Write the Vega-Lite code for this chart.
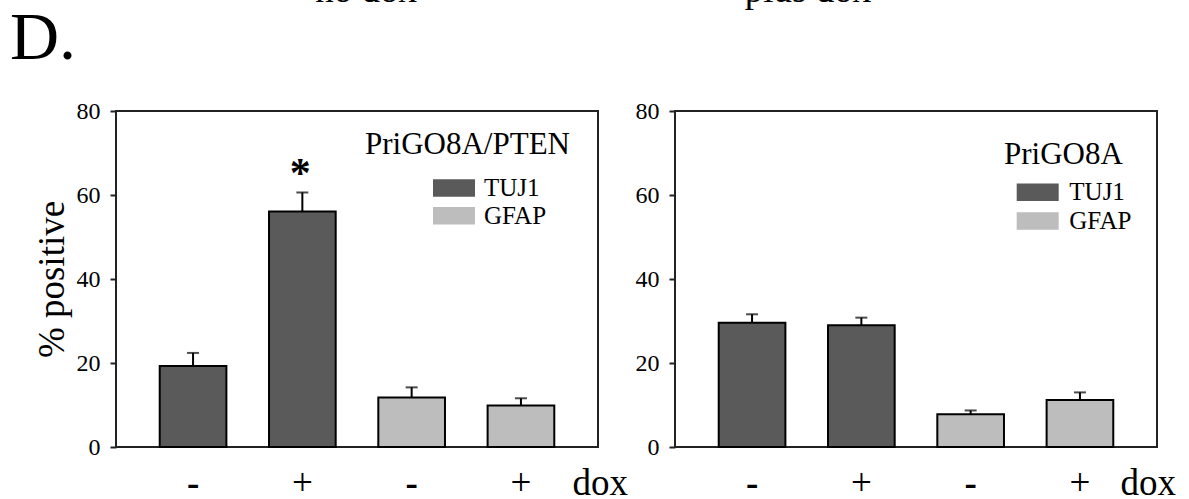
{
  "$schema": "https://vega.github.io/schema/vega-lite/v6.json",
  "autosize": {"type": "none"},
  "padding": {"left": 116, "top": 111, "right": 1073, "bottom": 388},
  "background": "white",
  "title": {"text": "D.", "anchor": "start", "frame": "group", "fontSize": 68, "fontWeight": "normal", "baseline": "alphabetic", "dx": -106, "offset": -156, "color": "black", "font": "Liberation Serif"},
  "data": {"values": [
    {"panel": "PriGO8A/PTEN", "cond": "TUJ1 -", "marker": "TUJ1", "value": 19.3, "upper": 22.4, "sig": ""},
    {"panel": "PriGO8A/PTEN", "cond": "TUJ1 +", "marker": "TUJ1", "value": 56.1, "upper": 60.6, "sig": "*"},
    {"panel": "PriGO8A/PTEN", "cond": "GFAP -", "marker": "GFAP", "value": 11.8, "upper": 14.2, "sig": ""},
    {"panel": "PriGO8A/PTEN", "cond": "GFAP +", "marker": "GFAP", "value": 9.9, "upper": 11.6, "sig": ""},
    {"panel": "PriGO8A", "cond": "TUJ1 -", "marker": "TUJ1", "value": 29.6, "upper": 31.6, "sig": ""},
    {"panel": "PriGO8A", "cond": "TUJ1 +", "marker": "TUJ1", "value": 29.0, "upper": 30.8, "sig": ""},
    {"panel": "PriGO8A", "cond": "GFAP -", "marker": "GFAP", "value": 7.8, "upper": 8.7, "sig": ""},
    {"panel": "PriGO8A", "cond": "GFAP +", "marker": "GFAP", "value": 11.2, "upper": 13.0, "sig": ""}
  ]},
  "spacing": 77,
  "bounds": "flush",
  "resolve": {"scale": {"color": "independent", "y": "independent", "x": "independent"}, "legend": {"color": "independent"}},
  "hconcat": [
    {
      "title": {"text": "no dox", "anchor": "middle", "frame": "group", "fontSize": 37, "fontWeight": "normal", "baseline": "alphabetic", "offset": 60, "dx": 9, "color": "black", "font": "Liberation Serif"},
      "width": 482, "height": 336,
      "transform": [{"filter": "datum.panel === 'PriGO8A/PTEN'"}],
      "encoding": {
        "x": {"field": "cond", "type": "nominal", "scale": {"domain": ["TUJ1 -", "TUJ1 +", "GFAP -", "GFAP +"], "paddingInner": 0.39, "paddingOuter": 0.4},
          "axis": {"title": "dox", "titleX": 456, "titleY": 47, "titleAlign": "left", "titleBaseline": "alphabetic", "titleFontSize": 37, "titleFontWeight": "normal", "titleFont": "Liberation Serif", "titleColor": "black",
            "labelExpr": "substring(datum.label, length(datum.label) - 1)", "labelAngle": 0, "labelFontSize": 37, "labelFont": "Liberation Serif", "labelColor": "black", "labelPadding": 18, "ticks": false, "domain": false,
            "labelFontWeight": {"condition": {"test": "indexof(datum.value, '-') >= 0", "value": "bold"}, "value": "normal"}}}
      },
      "layer": [
        {
          "mark": {"type": "bar", "stroke": "black", "strokeWidth": 2},
          "encoding": {
            "y": {"field": "value", "type": "quantitative", "title": "% positive", "scale": {"domain": [0, 80], "nice": false},
              "axis": {"values": [0, 20, 40, 60, 80], "titleFontSize": 37, "titleFontWeight": "normal", "titleFont": "Liberation Serif", "titleColor": "black", "titlePadding": 5, "grid": false,
                "labelFont": "Liberation Serif", "labelFontSize": 24, "labelColor": "black", "labelPadding": 10, "tickSize": 6, "tickWidth": 2, "tickColor": "#222222", "domain": false}},
            "color": {"field": "marker", "type": "nominal", "scale": {"domain": ["TUJ1", "GFAP"], "range": ["#5a5a5a", "#bdbdbd"]},
              "legend": {"title": "PriGO8A/PTEN", "orient": "none", "legendX": 249, "legendY": 18.5, "titlePadding": 15, "rowPadding": 1.8, "symbolOffset": 76.5, "labelOffset": 17.5}}
          }
        },
        {
          "mark": {"type": "rule", "strokeWidth": 2, "color": "black"},
          "encoding": {"y": {"field": "value", "type": "quantitative", "title": "% positive"}, "y2": {"field": "upper"}}
        },
        {
          "mark": {"type": "tick", "size": 12, "thickness": 2, "color": "black"},
          "encoding": {"y": {"field": "upper", "type": "quantitative", "title": "% positive"}}
        },
        {
          "mark": {"type": "text", "fontSize": 42, "fontWeight": "bold", "baseline": "alphabetic", "dy": -5, "dx": -2, "color": "black", "font": "Liberation Serif"},
          "encoding": {"y": {"field": "upper", "type": "quantitative", "title": "% positive"}, "text": {"field": "sig"}}
        }
      ]
    },
    {
      "title": {"text": "plus dox", "anchor": "middle", "frame": "group", "fontSize": 37, "fontWeight": "normal", "baseline": "alphabetic", "offset": 60, "dx": -108, "color": "black", "font": "Liberation Serif"},
      "width": 482, "height": 336,
      "transform": [{"filter": "datum.panel === 'PriGO8A'"}],
      "encoding": {
        "x": {"field": "cond", "type": "nominal", "scale": {"domain": ["TUJ1 -", "TUJ1 +", "GFAP -", "GFAP +"], "paddingInner": 0.39, "paddingOuter": 0.4},
          "axis": {"title": "dox", "titleX": 445, "titleY": 47, "titleAlign": "left", "titleBaseline": "alphabetic", "titleFontSize": 37, "titleFontWeight": "normal", "titleFont": "Liberation Serif", "titleColor": "black",
            "labelExpr": "substring(datum.label, length(datum.label) - 1)", "labelAngle": 0, "labelFontSize": 37, "labelFont": "Liberation Serif", "labelColor": "black", "labelPadding": 18, "ticks": false, "domain": false,
            "labelFontWeight": {"condition": {"test": "indexof(datum.value, '-') >= 0", "value": "bold"}, "value": "normal"}}}
      },
      "layer": [
        {
          "mark": {"type": "bar", "stroke": "black", "strokeWidth": 2},
          "encoding": {
            "y": {"field": "value", "type": "quantitative", "title": null, "scale": {"domain": [0, 80], "nice": false},
              "axis": {"values": [0, 20, 40, 60, 80], "grid": false,
                "labelFont": "Liberation Serif", "labelFontSize": 24, "labelColor": "black", "labelPadding": 10, "tickSize": 6, "tickWidth": 2, "tickColor": "#222222", "domain": false}},
            "color": {"field": "marker", "type": "nominal", "scale": {"domain": ["TUJ1", "GFAP"], "range": ["#5a5a5a", "#bdbdbd"]},
              "legend": {"title": "PriGO8A", "orient": "none", "legendX": 329, "legendY": 28.8, "titlePadding": 9, "rowPadding": 2.7, "symbolOffset": 21.2, "labelOffset": 19.1}}
          }
        },
        {
          "mark": {"type": "rule", "strokeWidth": 2, "color": "black"},
          "encoding": {"y": {"field": "value", "type": "quantitative", "title": null}, "y2": {"field": "upper"}}
        },
        {
          "mark": {"type": "tick", "size": 12, "thickness": 2, "color": "black"},
          "encoding": {"y": {"field": "upper", "type": "quantitative", "title": null}}
        }
      ]
    }
  ],
  "config": {
    "font": "Liberation Serif",
    "view": {"stroke": "#222222", "strokeWidth": 2},
    "axis": {"labelFont": "Liberation Serif", "titleFont": "Liberation Serif"},
    "style": {"guide-label": {"font": "Liberation Serif"}, "guide-title": {"font": "Liberation Serif"}},
    "legend": {"symbolType": "M-2.4,-1H2.4V1H-2.4Z", "symbolSize": 306.25, "symbolStrokeWidth": 0, "titleFontSize": 31, "titleFontWeight": "normal", "titleColor": "black",
      "labelFontSize": 25, "labelColor": "black", "padding": 0, "titleFont": "Liberation Serif", "labelFont": "Liberation Serif", "titleLimit": 400, "labelLimit": 200}
  }
}
